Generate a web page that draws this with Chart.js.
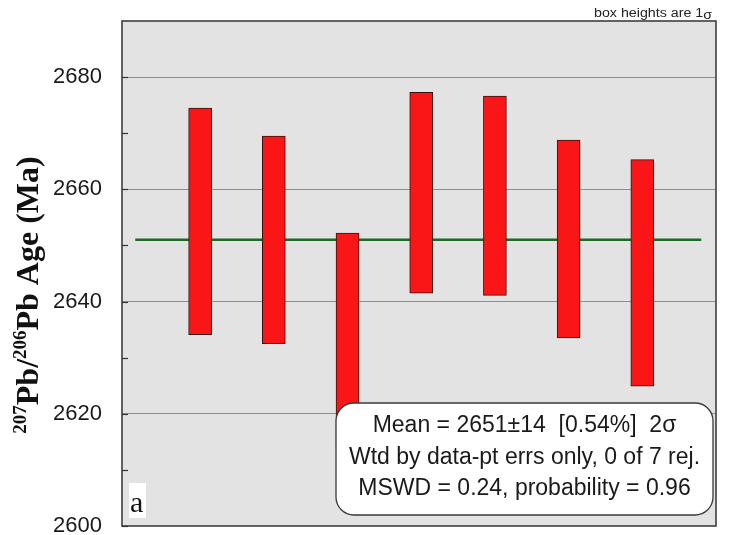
<!DOCTYPE html>
<html>
<head>
<meta charset="utf-8">
<script src="https://cdn.jsdelivr.net/npm/chart.js@4/dist/chart.umd.min.js"></script>
<style>
  html, body { margin: 0; padding: 0; background: #ffffff; }
  #wrap { width: 743px; height: 535px; }
</style>
</head>
<body>
<div id="wrap"><canvas id="c" width="743" height="535"></canvas></div>
<script>
// Analysis spots along the x axis
const spots = [1, 2, 3, 4, 5, 6, 7];
// 1-sigma box limits of each 207Pb/206Pb age (Ma)
const boxLow  = [2634.1, 2632.5, 2614.0, 2641.5, 2641.1, 2633.5, 2624.9];
const boxHigh = [2674.5, 2669.5, 2652.2, 2677.3, 2676.6, 2668.8, 2665.3];
// Weighted mean age and the x extent of its line
const meanAge = 2651;
const meanSpan = [0.12, 7.8];
// Axis ticks
const yTicks = [2600, 2620, 2640, 2660, 2680];
const yMinorTicks = [2610, 2630, 2650, 2670];
// Statistics panel
const statLines = [
  'Mean = 2651\u00b114  [0.54%]  2\u03c3',
  'Wtd by data-pt errs only, 0 of 7 rej.',
  'MSWD = 0.24, probability = 0.96'
];
const panelLetter = 'a';
const boxNote = 'box heights are 1';

const PLOT_BG = '#e3e3e3';

const decorations = {
  id: 'decorations',
  beforeDraw(chart) {
    const { ctx, chartArea: a } = chart;
    ctx.save();
    ctx.fillStyle = '#ffffff';
    ctx.fillRect(0, 0, chart.width, chart.height);
    ctx.fillStyle = PLOT_BG;
    ctx.fillRect(a.left, a.top, a.right - a.left, a.bottom - a.top);
    ctx.restore();
  },
  afterDraw(chart) {
    const { ctx, chartArea: a } = chart;
    const ys = chart.scales.y;
    ctx.save();

    // plot frame
    ctx.strokeStyle = '#3f3f3f';
    ctx.lineWidth = 1.6;
    ctx.strokeRect(a.left, a.top, a.right - a.left, a.bottom - a.top);

    // inward tick marks on the left axis
    ctx.strokeStyle = '#333333';
    ctx.lineWidth = 1.2;
    [...yTicks, ...yMinorTicks].forEach(v => {
      const py = Math.round(ys.getPixelForValue(v)) + 0.5;
      ctx.beginPath();
      ctx.moveTo(a.left, py);
      ctx.lineTo(a.left + 6, py);
      ctx.stroke();
    });

    // rotated axis title with superscript mass numbers
    const parts = [
      { t: '207', sup: true },
      { t: 'Pb/', sup: false },
      { t: '206', sup: true },
      { t: 'Pb Age (Ma)', sup: false }
    ];
    const mainFont = 'bold 32px "Liberation Serif", "Times New Roman", serif';
    const supFont = 'bold 19px "Liberation Serif", "Times New Roman", serif';
    let total = 0;
    parts.forEach(p => {
      ctx.font = p.sup ? supFont : mainFont;
      p.w = ctx.measureText(p.t).width;
      total += p.w;
    });
    ctx.translate(38, 295);
    ctx.rotate(-Math.PI / 2);
    ctx.fillStyle = '#111111';
    ctx.textBaseline = 'alphabetic';
    ctx.textAlign = 'left';
    let x = -total / 2;
    parts.forEach(p => {
      ctx.font = p.sup ? supFont : mainFont;
      ctx.fillText(p.t, x, p.sup ? -12 : 0);
      x += p.w;
    });
    ctx.setTransform(1, 0, 0, 1, 0, 0);

    // note above the frame, slightly widened lettering
    ctx.fillStyle = '#222222';
    ctx.font = '12px "Liberation Sans", Arial, sans-serif';
    ctx.textAlign = 'left';
    const noteW = ctx.measureText(boxNote).width;
    const sigW = ctx.measureText('\u03c3').width;
    const stretch = 118 / (noteW + sigW);
    ctx.translate(594, 0);
    ctx.scale(stretch, 1);
    ctx.fillText(boxNote, 0, 17);
    ctx.fillText('\u03c3', noteW, 19);
    ctx.setTransform(1, 0, 0, 1, 0, 0);

    // statistics panel
    const bx = 336, by = 403, bw = 377, bh = 112, r = 18;
    ctx.beginPath();
    ctx.moveTo(bx + r, by);
    ctx.lineTo(bx + bw - r, by);
    ctx.arcTo(bx + bw, by, bx + bw, by + r, r);
    ctx.lineTo(bx + bw, by + bh - r);
    ctx.arcTo(bx + bw, by + bh, bx + bw - r, by + bh, r);
    ctx.lineTo(bx + r, by + bh);
    ctx.arcTo(bx, by + bh, bx, by + bh - r, r);
    ctx.lineTo(bx, by + r);
    ctx.arcTo(bx, by, bx + r, by, r);
    ctx.closePath();
    ctx.fillStyle = '#ffffff';
    ctx.fill();
    ctx.strokeStyle = '#3a3a3a';
    ctx.lineWidth = 1.3;
    ctx.stroke();

    ctx.fillStyle = '#1a1a1a';
    ctx.font = '23px "Liberation Sans", Arial, sans-serif';
    ctx.textAlign = 'center';
    ctx.textBaseline = 'middle';
    statLines.forEach((s, i) => {
      ctx.fillText(s, bx + bw / 2, 426 + i * 31.5);
    });

    // panel letter
    ctx.fillStyle = '#ffffff';
    ctx.fillRect(129, 483, 17, 35);
    ctx.fillStyle = '#111111';
    ctx.font = '30px "Liberation Serif", "Times New Roman", serif';
    ctx.textAlign = 'left';
    ctx.textBaseline = 'alphabetic';
    ctx.fillText(panelLetter, 130, 512);

    ctx.restore();
  }
};

new Chart(document.getElementById('c'), {
  type: 'bar',
  data: {
    datasets: [
      {
        type: 'bar',
        data: spots.map((s, i) => ({ x: s, y: [boxLow[i], boxHigh[i]] })),
        backgroundColor: '#fa1616',
        borderColor: '#3a1010',
        borderWidth: 1,
        borderSkipped: false,
        barThickness: 23,
        order: 1
      },
      {
        type: 'line',
        data: meanSpan.map(x => ({ x: x, y: meanAge })),
        borderColor: '#1d6b22',
        borderWidth: 2.5,
        pointRadius: 0,
        fill: false,
        order: 2
      }
    ]
  },
  options: {
    responsive: false,
    animation: false,
    devicePixelRatio: 1,
    layout: { padding: { left: 0, right: 27, top: 21, bottom: 9 } },
    plugins: { legend: { display: false }, tooltip: { enabled: false } },
    scales: {
      x: {
        type: 'linear',
        min: -0.06,
        max: 8,
        offset: false,
        display: false
      },
      y: {
        type: 'linear',
        min: 2600,
        max: 2690,
        afterBuildTicks: s => { s.ticks = yTicks.map(v => ({ value: v })); },
        afterFit: s => {
          s.width = 122;
          s.paddingTop = 0;
          s.paddingBottom = 0;
        },
        border: { display: false },
        grid: {
          drawTicks: false,
          lineWidth: 1,
          color: c => (c.tick && c.tick.value > yTicks[0]) ? '#8e8e8e' : 'rgba(0,0,0,0)'
        },
        ticks: {
          padding: 20,
          color: '#1a1a1a',
          font: { family: '"Liberation Sans", Arial, sans-serif', size: 22 },
          callback: v => String(v)
        }
      }
    }
  },
  plugins: [decorations]
});
</script>
</body>
</html>
